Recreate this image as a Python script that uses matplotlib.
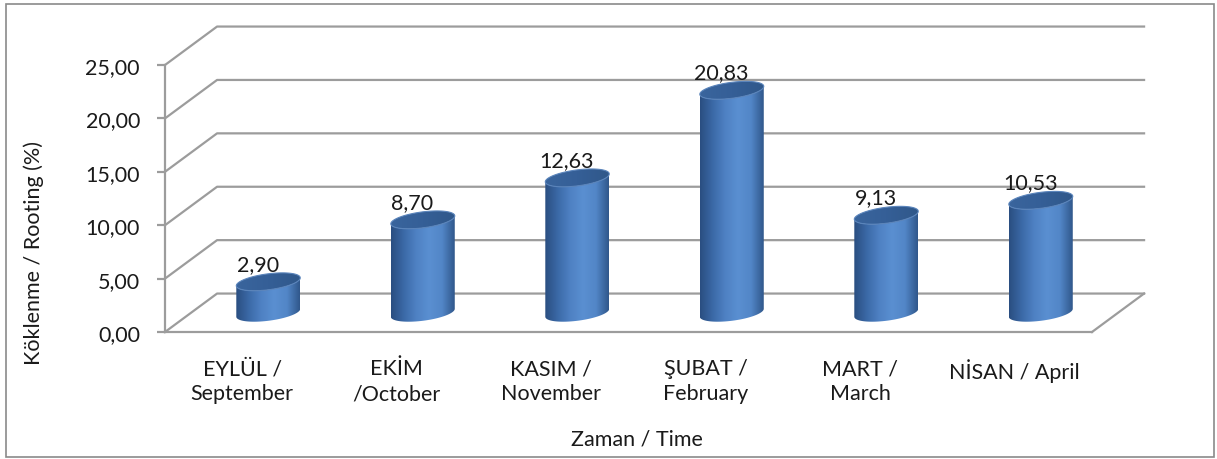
import numpy as np
import matplotlib
matplotlib.use('Agg')
import matplotlib.pyplot as plt
from matplotlib.patches import Polygon, Rectangle
from matplotlib.colors import LinearSegmentedColormap
from matplotlib.ticker import FuncFormatter

plt.rcParams['font.family'] = ['Lato', 'DejaVu Sans']
plt.rcParams['font.size'] = 15.5

# data
categories = ['EYLÜL /\nSeptember', 'EKİM\n/October', 'KASIM /\nNovember',
              'ŞUBAT /\nFebruary', 'MART /\nMarch', 'NİSAN / April']
values = [2.90, 8.70, 12.63, 20.83, 9.13, 10.53]
yticks = [0, 5, 10, 15, 20, 25]

grid_col = '#9c9c9c'
text_col = '#1a1a1a'
fs = 15.5

fig = plt.figure(figsize=(12.17, 4.6), dpi=100)
ax = fig.add_axes([165 / 1217, 127 / 460, 927 / 1217, 267 / 460])
n = len(values)

# depth of the 3d box (in data units)
ddx, ddy = 0.337, 3.6

# back wall + left wall gridlines
for v in yticks:
    ax.plot([-0.5, -0.5 + ddx, n - 0.5 + ddx], [v, v + ddy, v + ddy],
            color=grid_col, lw=1.6, clip_on=False, zorder=1)
# floor right edge
ax.plot([n - 0.5, n - 0.5 + ddx], [0, ddy], color=grid_col, lw=1.6,
        clip_on=False, zorder=1)

# cylinders
body_cmap = LinearSegmentedColormap.from_list(
    'body', ['#2a4e80', '#3b69a7', '#4f82c4', '#5a8fd1', '#5286c7', '#30578b'])
top_cmap = LinearSegmentedColormap.from_list('top', ['#3a659d', '#355f97', '#30588a'])
a, b, s = 0.207, 0.75, 0.37
grad = np.linspace(0, 1, 256).reshape(1, -1)
for i, v in enumerate(values):
    cx = i + ddx / 2
    y0 = ddy / 2
    y1 = v + ddy / 2
    t1 = np.linspace(np.pi, 2 * np.pi, 60)
    t2 = t1[::-1]
    xs = np.concatenate([cx + a * np.cos(t1), cx + a * np.cos(t2)])
    ys = np.concatenate([y1 + b * np.sin(t1) + s * np.cos(t1),
                         y0 + b * np.sin(t2) + s * np.cos(t2)])
    body = Polygon(np.column_stack([xs, ys]), closed=True, fc='none',
                   ec='none', zorder=3)
    ax.add_patch(body)
    im = ax.imshow(grad, cmap=body_cmap, aspect='auto', zorder=3,
                   extent=[cx - a, cx + a, y0 - b - s, y1 + b + s])
    im.set_clip_path(body)

    tt = np.linspace(0, 2 * np.pi, 120)
    top = Polygon(np.column_stack([cx + a * np.cos(tt),
                                   y1 + b * np.sin(tt) + s * np.cos(tt)]),
                  closed=True, fc='none', ec='#5a84bb', lw=0.8, zorder=5)
    ax.add_patch(top)
    im2 = ax.imshow(grad, cmap=top_cmap, aspect='auto', zorder=4,
                    extent=[cx - a, cx + a, y1 - b - s, y1 + b + s])
    im2.set_clip_path(top)

    ax.text(i + 0.1, v + 2.9, f'{v:.2f}'.replace('.', ','), ha='center',
            va='baseline', fontsize=fs, color=text_col, zorder=6)

ax.set_xlim(-0.5, n - 0.5)
ax.set_ylim(0, 25)

# axes
for side in ['top', 'right']:
    ax.spines[side].set_visible(False)
ax.spines['left'].set_color(grid_col)
ax.spines['left'].set_linewidth(1.6)
ax.spines['bottom'].set_color(grid_col)
ax.spines['bottom'].set_linewidth(1.6)
ax.set_yticks(yticks)
ax.yaxis.set_major_formatter(FuncFormatter(lambda v, p: f'{v:.2f}'.replace('.', ',')))
ax.tick_params(axis='y', length=6, width=1.6, color=grid_col, pad=12,
               labelsize=fs, labelcolor=text_col)
ax.set_xticks(range(n))
ax.set_xticklabels(categories, linespacing=1.3)
ax.tick_params(axis='x', length=0, pad=19, labelsize=fs, labelcolor=text_col)

ax.set_ylabel('Köklenme / Rooting (%)', fontsize=fs, color=text_col)
ax.yaxis.set_label_coords(-0.131, 0.30)
ax.set_xlabel('Zaman / Time', fontsize=fs, color=text_col)
ax.xaxis.set_label_coords(0.509, -0.36)

# outer border
fig.patches.append(Rectangle((6 / 1217, 2 / 460), 1208 / 1217, 453 / 460,
                             transform=fig.transFigure, fill=False,
                             ec='#8a8a8a', lw=1.2))

fig.savefig('out.png', dpi=100)
